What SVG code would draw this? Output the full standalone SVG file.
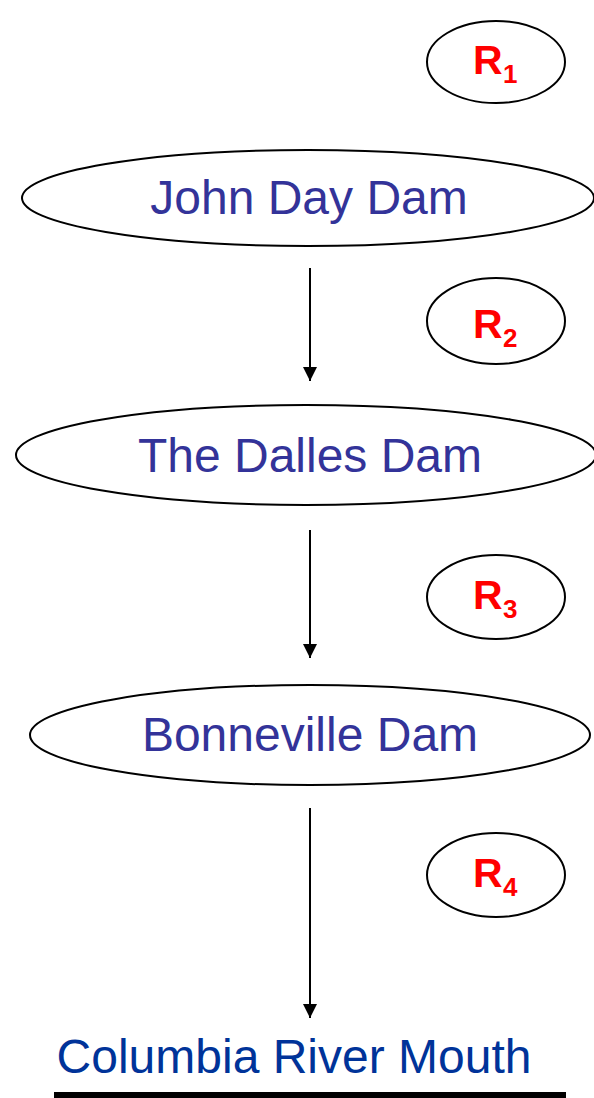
<svg xmlns="http://www.w3.org/2000/svg" width="594" height="1098" viewBox="0 0 594 1098">
<style>
.node{fill:#fff;stroke:#000;stroke-width:2}
.dam{font-family:"Liberation Sans",Arial,sans-serif;font-size:48px;fill:#333399;text-anchor:middle}
.r{font-family:"Liberation Sans",Arial,sans-serif;font-weight:bold;fill:#ff0000}
.conn{stroke:#000;stroke-width:2;fill:none}
</style>
<defs>
<marker id="ah" markerWidth="14" markerHeight="16" refX="14" refY="7" orient="auto" markerUnits="userSpaceOnUse">
<path d="M0,0 L14,7 L0,14 Z" fill="#000"/>
</marker>
</defs>
<rect width="594" height="1098" fill="#fff"/>
<g id="connectors">
<line class="conn" x1="310" y1="268" x2="310" y2="381" marker-end="url(#ah)"/>
<line class="conn" x1="310" y1="530" x2="310" y2="658" marker-end="url(#ah)"/>
<line class="conn" x1="310" y1="808" x2="310" y2="1018" marker-end="url(#ah)"/>
</g>
<g id="r1"><ellipse class="node" cx="496" cy="62" rx="69" ry="41"/><text class="r" x="473" y="74" font-size="41">R</text><text class="r" x="503" y="83" font-size="26">1</text></g>
<g id="john-day"><ellipse class="node" cx="308" cy="198" rx="286" ry="48"/><text class="dam" x="309" y="214">John Day Dam</text></g>
<g id="r2"><ellipse class="node" cx="496" cy="321" rx="69" ry="43"/><text class="r" x="473" y="338" font-size="41">R</text><text class="r" x="503" y="347" font-size="26">2</text></g>
<g id="the-dalles"><ellipse class="node" cx="306" cy="455" rx="290" ry="50"/><text class="dam" x="310" y="472">The Dalles Dam</text></g>
<g id="r3"><ellipse class="node" cx="496" cy="597" rx="69" ry="42"/><text class="r" x="473" y="609" font-size="41">R</text><text class="r" x="503" y="618" font-size="26">3</text></g>
<g id="bonneville"><ellipse class="node" cx="310" cy="735" rx="280" ry="50"/><text class="dam" x="310" y="751">Bonneville Dam</text></g>
<g id="r4"><ellipse class="node" cx="496" cy="875" rx="69" ry="42"/><text class="r" x="473" y="887" font-size="41">R</text><text class="r" x="503" y="896" font-size="26">4</text></g>
<g id="mouth"><text x="294" y="1073" font-family="Liberation Sans,Arial,sans-serif" font-size="48" fill="#003399" text-anchor="middle">Columbia River Mouth</text><rect x="54" y="1092" width="512" height="6" fill="#000"/></g>
</svg>
